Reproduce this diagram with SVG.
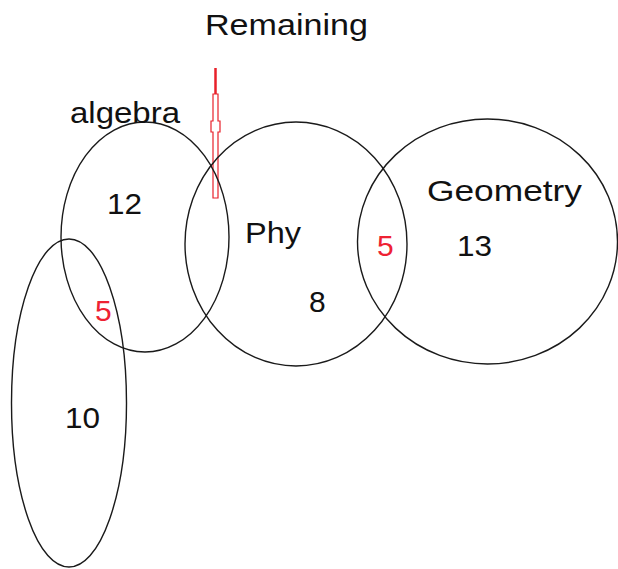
<svg xmlns="http://www.w3.org/2000/svg" width="618" height="569" viewBox="0 0 618 569">
<style>
.c{fill:none;stroke:#1a1a1a;stroke-width:1.4}
.t{font-family:"Liberation Sans","Open Sans",Arial,sans-serif;font-size:30px;fill:#111}
.r{fill:#ee2233}
</style>
<rect width="618" height="569" fill="#fff"/>
<g id="connectors">
<line x1="215.5" y1="68" x2="215.5" y2="94" stroke="#e8202a" stroke-width="2.5"/>
<polygon points="213,94 218,94 218,121 220,121 220,132 218,132 218,198 213,198 213,132 211,132 211,121 213,121" fill="none" stroke="#e8202a" stroke-width="1.2"/>
</g>
<g id="algebra">
<ellipse class="c" cx="145" cy="237" rx="84" ry="115"/>
<text class="t" x="70" y="123" textLength="110" lengthAdjust="spacingAndGlyphs">algebra</text>
<text class="t" x="107" y="214" textLength="35" lengthAdjust="spacingAndGlyphs">12</text>
</g>
<g id="other">
<ellipse class="c" cx="69" cy="403" rx="57.5" ry="164"/>
<text class="t" x="65" y="428" textLength="35" lengthAdjust="spacingAndGlyphs">10</text>
<text class="t r" x="95" y="321">5</text>
</g>
<g id="phy">
<ellipse class="c" cx="296" cy="244" rx="111" ry="122"/>
<text class="t" x="245" y="243" textLength="56" lengthAdjust="spacingAndGlyphs">Phy</text>
<text class="t" x="309" y="312">8</text>
</g>
<g id="geometry">
<ellipse class="c" cx="487.5" cy="241.5" rx="130" ry="122.5"/>
<text class="t" x="427" y="201" textLength="155" lengthAdjust="spacingAndGlyphs">Geometry</text>
<text class="t" x="457" y="256" textLength="35" lengthAdjust="spacingAndGlyphs">13</text>
<text class="t r" x="377" y="256">5</text>
</g>
<g id="remaining">
<text class="t" x="205" y="35" textLength="163" lengthAdjust="spacingAndGlyphs">Remaining</text>
</g>
</svg>
